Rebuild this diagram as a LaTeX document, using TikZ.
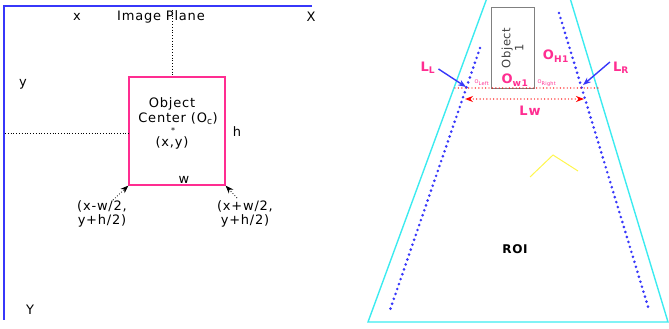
\documentclass[tikz,border=0pt]{standalone}
\usepackage{fontspec}
\setmainfont[LetterSpace=6]{DejaVu Sans}
\usetikzlibrary{arrows.meta}
\definecolor{roipink}{RGB}{255,45,145}
\definecolor{planeblue}{RGB}{55,55,250}
\definecolor{roicyan}{RGB}{60,235,240}
\tikzset{lbl/.style={inner sep=0pt, font=\fontsize{13}{14}\selectfont},
  pinklbl/.style={inner sep=0pt, text=roipink, font=\bfseries\fontsize{13}{14}\selectfont},
  lanedots/.style={planeblue, line width=2.9pt, line cap=round, dash pattern=on 0pt off 5.2pt},
  reddots/.style={red, line width=1.4pt, line cap=round, dash pattern=on 0pt off 3.4pt}}

\begin{document}
\begin{tikzpicture}[x=1pt, y=-1pt]
\useasboundingbox (0,0) rectangle (669,329);
% image plane
\draw[planeblue, line width=1.3pt] (312,6) -- (4,6) -- (4,320);
\node[lbl] (xs) at (77,17) {x};
\node[lbl] (title) at (161,17) {Image Plane};
\node[lbl] (xb) at (311,17) {X};
\node[lbl] (ys) at (23,84) {y};
\node[lbl] (yb) at (30,310) {Y};
\node[draw=roipink, line width=1.3pt, minimum width=96pt, minimum height=108pt, inner sep=0pt] (box) at (177,131) {};
\draw[dotted, thick] (172,10) -- (box.north -| 172,0);
\draw[dotted, thick] (5,133) -- (box.west |- 0,133);
\node[lbl] (c1) at (172,104) {Object};
\node[lbl] (c2) at (178,119) {Center (O\textsubscript{c})};
\node[lbl, font=\fontsize{8}{8}\selectfont] (c3) at (173,131) {*};
\node[lbl] (c4) at (172,143) {(x,y)};
\node[lbl] (h) at (237,132) {h};
\node[lbl] (w) at (184,180) {w};
\node[lbl, align=center] (pl) at (102,214) {(x-w/2,\\y+h/2)};
\node[lbl, align=center] (pr) at (245,214) {(x+w/2,\\y+h/2)};
\coordinate (al) at (113,200);
\coordinate (ar) at (237,198);
\draw[dotted, thick, -{Stealth[length=8pt]}] (al) -- (box.south west);
\draw[dotted, thick, -{Stealth[length=8pt]}] (ar) -- (box.south east);
% ROI
\draw[roicyan, line width=1.4pt] (487,-2) -- (368,322) -- (668,322) -- (570,-2);
\node[draw=gray, line width=1pt, minimum width=43pt, minimum height=80pt, inner sep=0pt] (obj) at (512.5,48) {};
\node[inner sep=0pt, rotate=90, align=center, font=\fontsize{11.5}{13}\selectfont, text=black!75] (objt) at (obj) {Object\\1};
\draw[lanedots] (480,48) -- (389,313);
\draw[lanedots] (559,13) -- (649,310);
\coordinate (rl) at (455,88);
\coordinate (rr) at (600,88);
\draw[reddots] (rl) -- (rr);
\coordinate (dl) at (465,99);
\coordinate (dr) at (584,99);
\draw[reddots, {Stealth[length=8pt]}-{Stealth[length=8pt]}] (dl) -- (dr);
\node[pinklbl] (lw) at (530,111) {Lw};
\node[pinklbl] (ll) at (428,68) {L\textsubscript{L}};
\node[pinklbl] (lr) at (621,68) {L\textsubscript{R}};
\coordinate (pll) at (466,87);
\coordinate (plr) at (583,85);
\draw[planeblue, line width=1.4pt, -{Stealth[length=8pt]}] (ll.east) ++(3,1) -- (pll);
\draw[planeblue, line width=1.4pt, -{Stealth[length=8pt]}] (lr.west) ++(-3,-6) -- (plr);
\node[pinklbl] (oh) at (556,56) {O\textsubscript{H1}};
\node[pinklbl] (ow) at (515,80) {O\textsubscript{w1}};
\node[inner sep=0pt, text=roipink, font=\fontsize{5}{5}\selectfont] (ol) at (482,83) {O\textsubscript{Left}};
\node[inner sep=0pt, text=roipink, font=\fontsize{5}{5}\selectfont] (or) at (547,83) {O\textsubscript{Right}};
\draw[yellow!70!white, line width=1pt] (530,177) -- (553,155) -- (578,171);
\node[inner sep=0pt, font=\bfseries\fontsize{12}{13}\selectfont] (roi) at (515,249) {ROI};
\end{tikzpicture}
\end{document}
